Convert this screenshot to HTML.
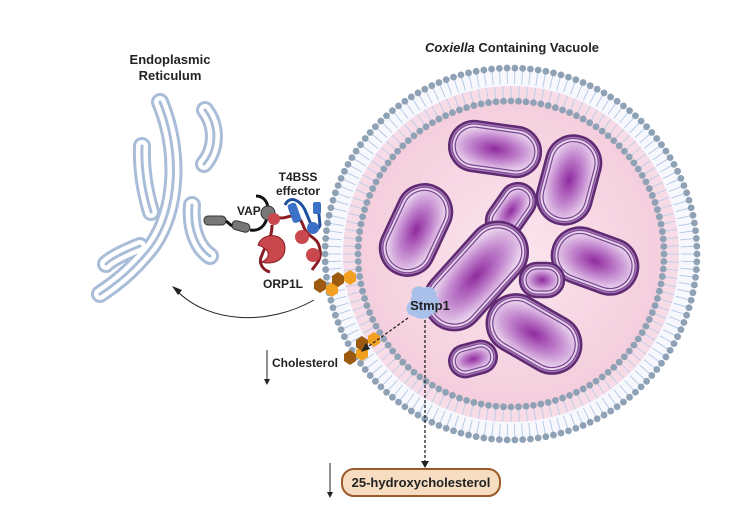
<!DOCTYPE html>
<html><head><meta charset="utf-8"><style>
body{margin:0;background:#fff}
svg{display:block}
text{font-family:"Liberation Sans",sans-serif;font-weight:bold;fill:#222}
</style></head><body>
<svg id="s" width="750" height="525" viewBox="0 0 750 525" xmlns="http://www.w3.org/2000/svg">
<defs>
<radialGradient id="bg" cx="0.5" cy="0.5" r="0.6">
<stop offset="0" stop-color="#fbe6ee"/><stop offset="1" stop-color="#f3c9d9"/></radialGradient>
<radialGradient id="bac" cx="0.5" cy="0.5" r="0.6">
<stop offset="0" stop-color="#8f2a9e"/><stop offset="0.5" stop-color="#bf80cb"/><stop offset="1" stop-color="#efe0f2"/></radialGradient>
</defs>
<text x="170" y="64" font-size="13" text-anchor="middle">Endoplasmic</text>
<text x="170" y="80" font-size="13" text-anchor="middle">Reticulum</text>
<text x="512" y="52" font-size="13" text-anchor="middle"><tspan font-style="italic">Coxiella</tspan> Containing Vacuole</text>

<!-- vacuole -->
<circle cx="511" cy="254" r="186" fill="#f6f8fd"/>
<circle cx="511" cy="254" r="168" fill="#f7dbe6"/>
<circle cx="511" cy="254" r="153" fill="url(#bg)"/>
<g id="mem"></g>

<!-- ER -->
<g fill="none" stroke-linecap="round" stroke-linejoin="round">
<g stroke="#a9bdd8" stroke-width="18">
<path d="M160,102 C180,150 178,210 152,246 C132,272 112,286 100,294"/>
<path d="M140,246 C125,252 112,258 106,264"/>
<path d="M142,146 C141,172 146,195 151,212"/>
<path d="M205,110 C218,127 216,150 204,164"/>
<path d="M192,205 C190,230 198,248 210,256"/>
</g>
<g stroke="#fff" stroke-width="12">
<path d="M160,102 C180,150 178,210 152,246 C132,272 112,286 100,294"/>
<path d="M140,246 C125,252 112,258 106,264"/>
<path d="M142,146 C141,172 146,195 151,212"/>
<path d="M205,110 C218,127 216,150 204,164"/>
<path d="M192,205 C190,230 198,248 210,256"/>
</g>
<g stroke="#a9bdd8" stroke-width="3">
<path d="M160,102 C180,150 178,210 152,246 C132,272 112,286 100,294"/>
<path d="M140,246 C125,252 112,258 106,264"/>
<path d="M142,146 C141,172 146,195 151,212"/>
<path d="M205,110 C218,127 216,150 204,164"/>
<path d="M192,205 C190,230 198,248 210,256"/>
</g>
</g>

<!-- VAP -->
<g stroke="#333" stroke-width="1">
<rect x="204" y="216" width="22" height="9" rx="4" fill="#777"/>
<rect x="232" y="222" width="18" height="9" rx="4" fill="#777" transform="rotate(15 241 226)"/>
</g>
<path d="M226,221 L232,226 M250,230 C262,232 268,222 268,210 C268,200 262,196 256,196" stroke="#111" stroke-width="3" fill="none"/>
<circle cx="268" cy="213" r="7" fill="#777" stroke="#333"/>
<text x="237" y="215" font-size="12">VAP</text>
<!-- ORP1L -->
<path d="M275,215 C285,225 295,205 303,225 C308,240 318,235 320,250 C322,260 315,265 312,270" stroke="#8a1d24" stroke-width="3" fill="none"/>
<path d="M272,225 C272,240 265,245 262,255 C258,262 262,270 270,272" stroke="#8a1d24" stroke-width="3" fill="none"/>
<path d="M258,245 C262,232 285,232 285,248 C285,262 270,265 262,262 C270,258 272,250 258,245Z" fill="#c9484e" stroke="#8a1d24"/>
<circle cx="274" cy="219" r="6" fill="#c9484e"/>
<circle cx="302" cy="237" r="7" fill="#c9484e"/>
<circle cx="313" cy="255" r="7" fill="#c9484e"/>
<text x="283" y="288" font-size="12" text-anchor="middle">ORP1L</text>
<!-- T4BSS -->
<path d="M285,205 C290,195 300,200 305,210 L310,222 C312,230 318,232 320,225 L318,205" stroke="#1f4fa0" stroke-width="3" fill="none"/>
<rect x="290" y="203" width="9" height="20" rx="3" fill="#3b72c8" transform="rotate(-20 294 213)"/>
<rect x="313" y="202" width="8" height="12" rx="2" fill="#3b72c8"/>
<circle cx="313" cy="228" r="6" fill="#3b72c8"/>
<text x="298" y="181" font-size="12" text-anchor="middle">T4BSS</text>
<text x="298" y="195" font-size="12" text-anchor="middle">effector</text>

<!-- bacteria -->
<g id="bacs"></g>

<!-- cholesterol -->
<g stroke="none">
<polygon points="314,282 320,278 326,282 326,289 320,293 314,289" fill="#9b5a10"/>
<polygon points="326,286 332,282 338,286 338,293 332,297 326,293" fill="#f2a020"/>
<polygon points="332,276 338,272 344,276 344,283 338,287 332,283" fill="#9b5a10"/>
<polygon points="344,274 350,270 356,274 356,281 350,285 344,281" fill="#f2a020"/>
<polygon points="344,354 350,350 356,354 356,361 350,365 344,361" fill="#9b5a10"/>
<polygon points="356,350 362,346 368,350 368,357 362,361 356,357" fill="#f2a020"/>
<polygon points="356,340 362,336 368,340 368,347 362,351 356,347" fill="#9b5a10"/>
<polygon points="368,336 374,332 380,336 380,343 374,347 368,343" fill="#f2a020"/>
</g>
<path d="M314,300 C270,325 210,325 176,290" stroke="#222" stroke-width="1" fill="none"/>
<path d="M172,286 L182,290 L178,295Z" fill="#222"/>

<!-- Stmp1 -->
<path d="M412,295 C410,288 418,284 424,288 C430,284 438,290 436,296 C442,300 440,312 432,314 C428,320 418,320 414,316 C406,316 404,306 410,302Z" fill="#a8c0ea"/>
<text x="430" y="310" font-size="13" text-anchor="middle">Stmp1</text>
<path d="M408,318 L366,348" stroke="#222" stroke-width="1.3" stroke-dasharray="3,2"/>
<path d="M361,352 L366,343 L370,349Z" fill="#222"/>
<path d="M425,320 L425,462" stroke="#222" stroke-width="1.3" stroke-dasharray="3,2"/>
<path d="M421,461 L429,461 L425,468Z" fill="#222"/>

<path d="M267,350 L267,380" stroke="#222" stroke-width="1"/>
<path d="M264,379 L270,379 L267,385Z" fill="#222"/>
<text x="272" y="367" font-size="12">Cholesterol</text>

<rect x="342" y="469" width="158" height="27" rx="12" fill="#f6dcc0" stroke="#9b5a2a" stroke-width="2"/>
<text x="421" y="487" font-size="13" font-weight="normal" text-anchor="middle">25-hydroxycholesterol</text>
<path d="M330,463 L330,493" stroke="#222" stroke-width="1"/>
<path d="M327,492 L333,492 L330,498Z" fill="#222"/>
</svg>
<script>
var cx=511,cy=254,h="";
var n=150;
for(var i=0;i<n;i++){var a=i/n*2*Math.PI,c=Math.cos(a),s=Math.sin(a);
h+='<line x1="'+(cx+184*c)+'" y1="'+(cy+184*s)+'" x2="'+(cx+170*c)+'" y2="'+(cy+170*s)+'" stroke="#b3c6e4" stroke-width="0.9"/>';
h+='<circle cx="'+(cx+186*c)+'" cy="'+(cy+186*s)+'" r="3.4" fill="#8fa2b5"/>';}
var n2=128;
for(var i=0;i<n2;i++){var a=i/n2*2*Math.PI,c=Math.cos(a),s=Math.sin(a);
h+='<line x1="'+(cx+155*c)+'" y1="'+(cy+155*s)+'" x2="'+(cx+168*c)+'" y2="'+(cy+168*s)+'" stroke="#bccde8" stroke-width="0.9"/>';
h+='<circle cx="'+(cx+153*c)+'" cy="'+(cy+153*s)+'" r="3.4" fill="#8fa2b5"/>';}
document.getElementById("mem").innerHTML=h;
var B=[[495,149,92,50,8],[569,180,55,90,15],[511,211,36,60,35],[416,230,55,95,25],[476,276,60,125,42],[595,261,88,56,20],[542,280,44,34,0],[534,334,100,58,30],[473,359,48,32,-15]];
var g="";
B.forEach(function(b){var w=b[2],hh=b[3],r=Math.min(w,hh)/2;
g+='<g transform="translate('+b[0]+' '+b[1]+') rotate('+b[4]+')">'+
'<rect x="'+(-w/2)+'" y="'+(-hh/2)+'" width="'+w+'" height="'+hh+'" rx="'+r+'" fill="#a777b5" stroke="#5e2a72" stroke-width="2.5"/>'+
'<rect x="'+(-w/2+3)+'" y="'+(-hh/2+3)+'" width="'+(w-6)+'" height="'+(hh-6)+'" rx="'+(r-3)+'" fill="#e6d3ec" stroke="#7a4590" stroke-width="1"/>'+
'<rect x="'+(-w/2+6)+'" y="'+(-hh/2+6)+'" width="'+(w-12)+'" height="'+(hh-12)+'" rx="'+(r-6)+'" fill="url(#bac)" stroke="#7a4590" stroke-width="1.2"/></g>';});
document.getElementById("bacs").innerHTML=g;
</script>
</body></html>
